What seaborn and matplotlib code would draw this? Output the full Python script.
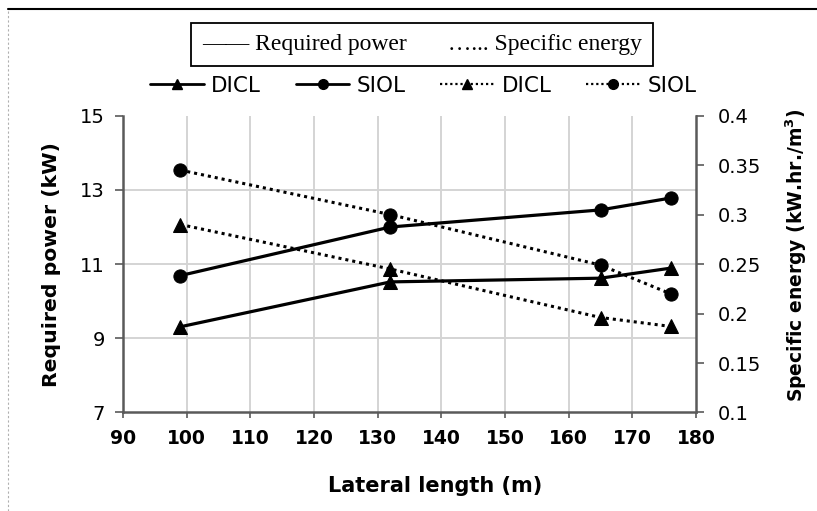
import matplotlib
matplotlib.use("Agg")
import matplotlib.pyplot as plt
import seaborn as sns
import pandas as pd
from matplotlib.lines import Line2D

# ---- data ----
lateral_length = [99, 132, 165, 176]
power_dicl = [9.31, 10.52, 10.62, 10.89]
power_siol = [10.69, 12.0, 12.46, 12.78]
energy_dicl = [0.290, 0.245, 0.196, 0.187]
energy_siol = [0.345, 0.300, 0.249, 0.220]
x_ticks = [90, 100, 110, 120, 130, 140, 150, 160, 170, 180]
left_ticks = [7, 9, 11, 13, 15]
right_ticks = [0.1, 0.15, 0.2, 0.25, 0.3, 0.35, 0.4]
right_tick_labels = ["0.1", "0.15", "0.2", "0.25", "0.3", "0.35", "0.4"]

sns.set_theme(style="white")
plt.rcParams['font.family'] = ['DejaVu Sans']
plt.rcParams['text.color'] = 'black'
plt.rcParams['axes.labelcolor'] = 'black'
plt.rcParams['xtick.color'] = 'black'
plt.rcParams['ytick.color'] = 'black'

fig = plt.figure(figsize=(8.17, 5.11), dpi=100)
ax = fig.add_axes([0.1506, 0.1928, 0.7013, 0.5808])
ax2 = ax.twinx()

dotted = (0, (1, 1.3))
mk = dict(color="black", markersize=9.5, markeredgecolor="black")

df = pd.DataFrame({"x": lateral_length, "pd": power_dicl, "ps": power_siol,
                   "ed": energy_dicl, "es": energy_siol})

sns.lineplot(data=df, x="x", y="pd", ax=ax, marker="^", linewidth=2.3, **mk)
sns.lineplot(data=df, x="x", y="ps", ax=ax, marker="o", linewidth=2.3, **mk)
sns.lineplot(data=df, x="x", y="ed", ax=ax2, marker="^", linewidth=2.2, linestyle=dotted, **mk)
sns.lineplot(data=df, x="x", y="es", ax=ax2, marker="o", linewidth=2.2, linestyle=dotted, **mk)

ax.set_xlim(90, 180)
ax.set_ylim(7, 15)
ax2.set_ylim(0.1, 0.4)
ax.set_xticks(x_ticks)
ax.set_yticks(left_ticks)
ax2.set_yticks(right_ticks)
ax2.set_yticklabels(right_tick_labels)

# grid
for xv in x_ticks[1:-1]:
    ax.axvline(xv, color="#d4d4d4", lw=1.4, zorder=0)
for yv in left_ticks[1:-1]:
    ax.axhline(yv, color="#d4d4d4", lw=1.4, zorder=0)
ax.set_axisbelow(True)

axis_col = "#5a5a5a"
for a in (ax, ax2):
    a.spines["top"].set_visible(False)
ax.spines["right"].set_visible(False)
ax2.spines["left"].set_visible(False)
ax2.spines["bottom"].set_visible(False)
ax.spines["left"].set_color(axis_col)
ax.spines["bottom"].set_color(axis_col)
ax2.spines["right"].set_color(axis_col)
ax.spines["left"].set_linewidth(1.8)
ax.spines["bottom"].set_linewidth(1.8)
ax2.spines["right"].set_linewidth(1.8)

ax.tick_params(axis="y", direction="out", length=6, width=1.2, color=axis_col,
               labelsize=14, pad=7, left=True, labelcolor="black")
ax.tick_params(axis="x", direction="out", length=4, width=1.2, color=axis_col,
               labelsize=13.5, pad=8, bottom=True, labelcolor="black")
ax2.tick_params(axis="y", direction="out", length=6, width=1.2, color=axis_col,
                labelsize=14, pad=10, right=True, labelcolor="black")
for lab in ax.get_xticklabels():
    lab.set_fontweight("bold")

ax.set_xlabel("Lateral length (m)", fontsize=15, fontweight="bold", labelpad=14)
ax.xaxis.set_label_coords(0.545, -0.215)
ax.set_ylabel("Required power (kW)", fontsize=14.7, fontweight="bold", labelpad=14)
ax2.set_ylabel("Specific energy (kW.hr./m$^\\mathbf{3}$)", fontsize=13.5, fontweight="bold",
               labelpad=16)
ax2.yaxis.set_label_coords(1.152, 0.53)

# top boxed legend text
fig.text(0.5165, 0.913, "\u2014\u2014 Required power       \u2026... Specific energy",
         ha="center", va="center", fontsize=17, fontfamily="Liberation Serif",
         bbox=dict(boxstyle="square,pad=0.45", fc="white", ec="black", lw=1.3))

# series legend row
handles = [
    Line2D([], [], color="black", lw=2, marker="^", markersize=7),
    Line2D([], [], color="black", lw=2, marker="o", markersize=7),
    Line2D([], [], color="black", lw=1.6, linestyle=dotted, marker="^", markersize=7),
    Line2D([], [], color="black", lw=1.6, linestyle=dotted, marker="o", markersize=7),
]
fig.legend(handles, ["DICL", "SIOL", "DICL", "SIOL"], ncol=4, frameon=False,
           loc="center", bbox_to_anchor=(0.518, 0.832), fontsize=15.5,
           handlelength=2.5, columnspacing=1.6, handletextpad=0.35)

# figure border
fig.add_artist(Line2D([0.01, 1.0], [0.982, 0.982], color="black", lw=1.5,
                      transform=fig.transFigure))
fig.add_artist(Line2D([0.01, 0.01], [0.0, 0.982], color="#b0b0b0", lw=0.8,
                      linestyle=(0, (2, 2)), transform=fig.transFigure))

fig.savefig("out.png", dpi=100)
